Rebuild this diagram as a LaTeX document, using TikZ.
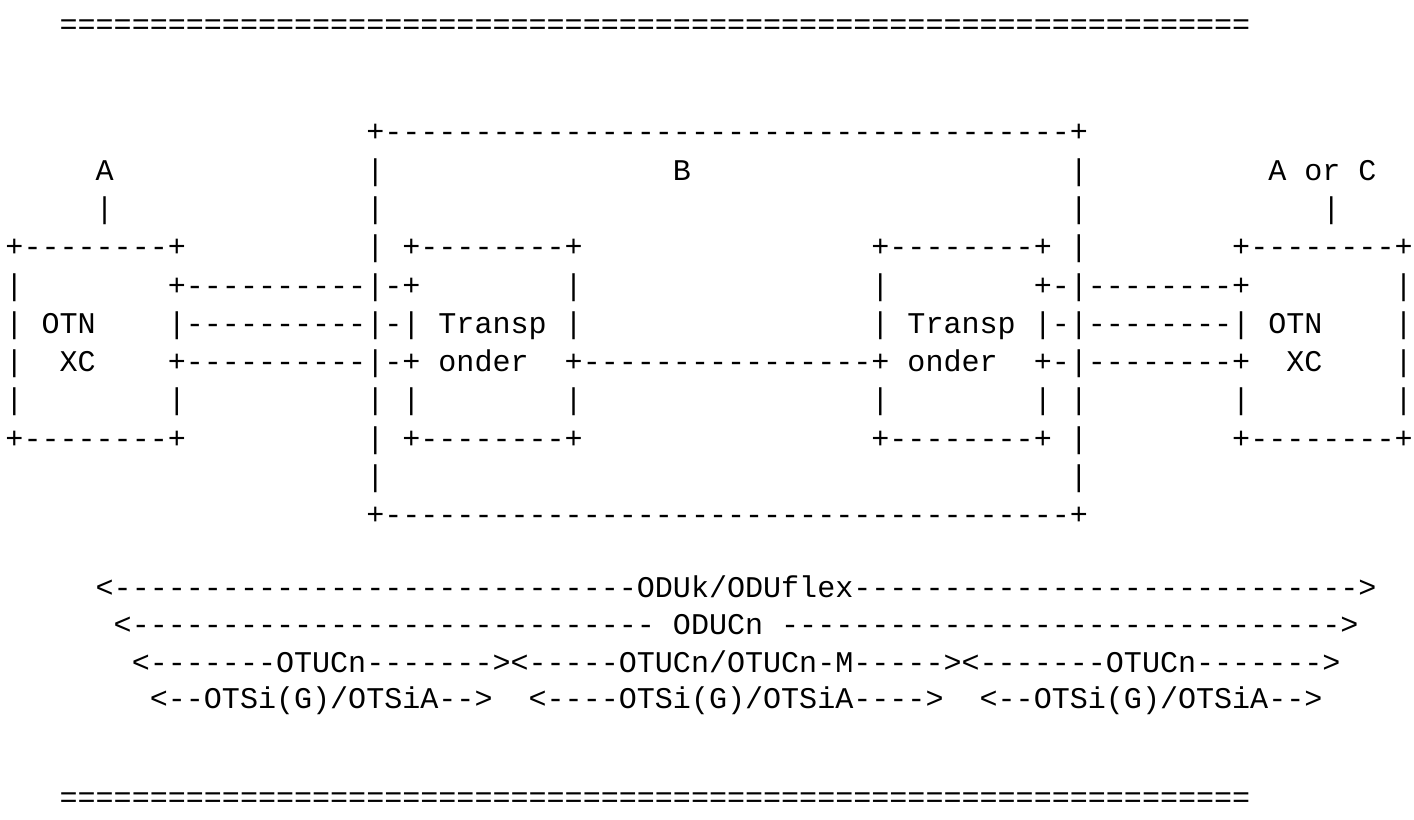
\documentclass[tikz,border=0pt]{standalone}
\usepackage{fontspec}
\setmonofont{Liberation Mono}
\usepackage{tikz}

\ExplSyntaxOn
\cs_new:Npn \asciirun #1#2 { \prg_replicate:nn {#1} {#2} }
\ExplSyntaxOff

\tikzset{
  ascii/.style={anchor=base west, inner sep=0pt, outer sep=0pt,
    font=\ttfamily\fontsize{22.55pt}{27pt}\selectfont},
}

\begin{document}
\begin{tikzpicture}[x=13.53pt, y=-0.75pt]
\useasboundingbox (0pt,0pt) rectangle (1060.5pt,-614.25pt);
\fill[white] (0pt,0pt) rectangle (1060.5pt,-614.25pt);
\begin{scope}[xshift=4.11pt]
% top rule
\node[ascii] (ruleTop) at (3,34) {\asciirun{66}{=}};

% domain B, labels
\node[ascii] (bTop) at (20,141.8) {+\asciirun{38}{-}+};
\node[ascii] (labA) at (5,180.1) {A};
\node[ascii] (bLa) at (20,180.1) {|};
\node[ascii] (labB) at (37,180.1) {B};
\node[ascii] (bRa) at (59,180.1) {|};
\node[ascii] (labAC) at (70,180.1) {A~or~C};
\node[ascii] (tickA) at (5,218.4) {|};
\node[ascii] (bLb) at (20,218.4) {|};
\node[ascii] (bRb) at (59,218.4) {|};
\node[ascii] (tickAC) at (73,218.4) {|};

% box tops
\node[ascii] (xcLtop) at (0,256.7) {+\asciirun{8}{-}+};
\node[ascii] (tpLtop) at (20,256.7) {|~+\asciirun{8}{-}+};
\node[ascii] (tpRtop) at (48,256.7) {+\asciirun{8}{-}+~|};
\node[ascii] (xcRtop) at (68,256.7) {+\asciirun{8}{-}+};

% links
\node[ascii] (xcLa) at (0,295) {|};
\node[ascii] (lnkLa) at (9,295) {+\asciirun{10}{-}|-+};
\node[ascii] (tpLa) at (31,295) {|};
\node[ascii] (tpRa) at (48,295) {|};
\node[ascii] (lnkRa) at (57,295) {+-|\asciirun{8}{-}+};
\node[ascii] (xcRa) at (77,295) {|};

\node[ascii] (xcLb) at (0,333.3) {|~OTN};
\node[ascii] (lnkLb) at (9,333.3) {|\asciirun{10}{-}|-|~Transp~|};
\node[ascii] (lnkRb) at (48,333.3) {|~Transp~|-|\asciirun{8}{-}|~OTN};
\node[ascii] (xcRb) at (77,333.3) {|};

\node[ascii] (xcLc) at (0,371.6) {|};
\node[ascii] (xcLname) at (3,371.6) {XC};
\node[ascii] (lnkMid) at (9,371.6)
  {+\asciirun{10}{-}|-+~onder~~+\asciirun{16}{-}+~onder~~+-|\asciirun{8}{-}+};
\node[ascii] (xcRname) at (71,371.6) {XC};
\node[ascii] (xcRc) at (77,371.6) {|};

\node[ascii] (xcLd) at (0,409.9) {|};
\node[ascii] (xcLe) at (9,409.9) {|};
\node[ascii] (tpLd) at (20,409.9) {|~|};
\node[ascii] (tpLe) at (31,409.9) {|};
\node[ascii] (tpRd) at (48,409.9) {|};
\node[ascii] (tpRe) at (57,409.9) {|~|};
\node[ascii] (xcRd) at (68,409.9) {|};
\node[ascii] (xcRe) at (77,409.9) {|};

% box bottoms
\node[ascii] (xcLbot) at (0,448.2) {+\asciirun{8}{-}+};
\node[ascii] (tpLbot) at (20,448.2) {|~+\asciirun{8}{-}+};
\node[ascii] (tpRbot) at (48,448.2) {+\asciirun{8}{-}+~|};
\node[ascii] (xcRbot) at (68,448.2) {+\asciirun{8}{-}+};
\node[ascii] (bLc) at (20,486.5) {|};
\node[ascii] (bRc) at (59,486.5) {|};
\node[ascii] (bBot) at (20,524.8) {+\asciirun{38}{-}+};

% layers
\node[ascii] (oduk) at (5,597) {<\asciirun{29}{-}ODUk/ODUflex\asciirun{28}{-}>};
\node[ascii] (oducn) at (6,634) {<\asciirun{29}{-}~ODUCn~\asciirun{31}{-}>};
\node[ascii] (otucn) at (7,672)
  {<\asciirun{7}{-}OTUCn\asciirun{7}{-}><\asciirun{5}{-}OTUCn/OTUCn-M\asciirun{5}{-}><\asciirun{7}{-}OTUCn\asciirun{7}{-}>};
\node[ascii] (otsi) at (8,708)
  {<\asciirun{2}{-}OTSi(G)/OTSiA\asciirun{2}{-}>~~<\asciirun{4}{-}OTSi(G)/OTSiA\asciirun{4}{-}>~~<\asciirun{2}{-}OTSi(G)/OTSiA\asciirun{2}{-}>};

% bottom rule
\node[ascii] (ruleBot) at (3,807) {\asciirun{66}{=}};
\end{scope}
\end{tikzpicture}
\end{document}
